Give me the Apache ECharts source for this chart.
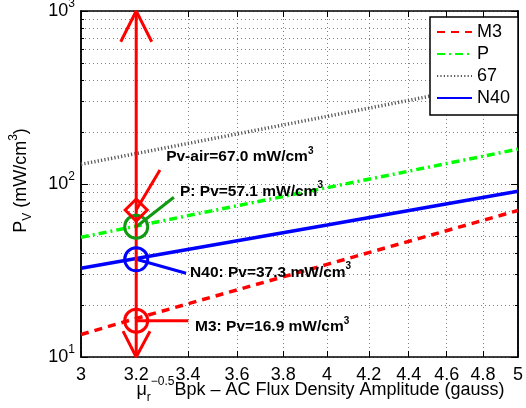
<!DOCTYPE html>
<html><head><meta charset="utf-8">
<script src="https://cdn.jsdelivr.net/npm/echarts@6/dist/echarts.min.js"></script>
<style>html,body{margin:0;padding:0;background:#fff}#c{width:526px;height:408px}</style>
</head><body><div id="c"></div>
<script>
// ---- data (log-log plot) ----
const xValues   = [3, 3.2, 4, 5];
const m3Values  = [13.5, 16.7, 34.3, 70.3];
const pValues   = [49.2, 57.1, 95.3, 159];
const airValues = [130, 150, 246, 405];
const n40Values = [32.6, 37.1, 57.9, 90.8];
const seriesNames = ['M3', 'P', '67', 'N40'];

const xTicks = [3, 3.2, 3.4, 3.6, 3.8, 4, 4.2, 4.4, 4.6, 4.8, 5];
const yMinorTicks = [10, 20, 30, 40, 50, 60, 70, 80, 90, 100, 200, 300, 400, 500, 600, 700, 800, 900, 1000];
const yMajorTicks = [10, 100, 1000];

// operating point annotation at x = 3.2
const markX = 3.2;
const markerY = [16.2, 36.7, 56.6, 70.7];           // M3, N40, P, air
const markerColors = ['#ff0000', '#0000ff', '#119911', '#ff0000'];
const markerSymbols = ['circle', 'circle', 'circle', 'diamond'];
const leaderEndX = [3.401, 3.392, 3.344, 3.290];
const leaderEndY = [16.2, 30.5, 83.8, 120.5];
const noteX = [3.428, 3.408, 3.368, 3.314];
const noteY = [14.9, 30.8, 90.5, 143.2];
const noteTexts = ['M3: Pv=16.9 mW/cm', 'N40: Pv=37.3 mW/cm', 'P: Pv=57.1 mW/cm', 'Pv-air=67.0 mW/cm'];
const arrowTopY = [664, 1000, 664];
const arrowTopX = [3.1426, 3.2, 3.2585];
const arrowBotY = [14.1, 10, 14.1];
const arrowBotX = [3.151, 3.2, 3.252];

const pairs = (xs, ys) => xs.map((x, i) => [x, ys[i]]);

const gridDot = { color: '#808080', type: [1, 3], width: 1 };
const FONT = 'Liberation Sans, Arial, Helvetica, sans-serif';

function logAxisX(pos, showLabel) {
  return {
    type: 'log', logBase: 10, min: 3, max: 5, position: pos,
    axisLine: { show: true, onZero: false, lineStyle: { color: '#000', width: 1.5 } },
    axisTick: { show: true, inside: true, length: 6, customValues: xTicks, lineStyle: { color: '#000', width: 1 } },
    axisLabel: showLabel ? {
      show: true, customValues: xTicks, margin: 9, color: '#000', fontSize: 18, fontFamily: FONT,
      formatter: v => String(Math.round(v * 10) / 10)
    } : { show: false },
    splitLine: { show: showLabel, lineStyle: gridDot },
    minorTick: { show: false }, minorSplitLine: { show: false }
  };
}
function logAxisY(pos, ticks, len, opts) {
  return Object.assign({
    type: 'log', logBase: 10, min: 10, max: 1000, position: pos,
    axisLine: { show: true, onZero: false, lineStyle: { color: '#000', width: 1.5 } },
    axisTick: { show: true, inside: true, length: len, customValues: ticks, lineStyle: { color: '#000', width: 1 } },
    axisLabel: { show: false },
    splitLine: { show: false },
    minorTick: { show: false }, minorSplitLine: { show: false }
  }, opts || {});
}

const xAxes = [
  Object.assign(logAxisX('bottom', true), {
    name: '{t|μ}{sub|r}{sup|−0.5}{t|Bpk – AC Flux Density Amplitude (gauss)}',
    nameLocation: 'middle', nameGap: 19,
    nameMoveOverlap: false,
    nameTextStyle: {
      padding: [0, 0, 0, 42],
      rich: {
        t: { fontSize: 18, fontFamily: FONT, color: '#000', lineHeight: 28 },
        sub: { fontSize: 12, fontFamily: FONT, color: '#000', verticalAlign: 'bottom', lineHeight: 6 },
        sup: { fontSize: 12, fontFamily: FONT, color: '#000', verticalAlign: 'top', lineHeight: 8 }
      }
    }
  }),
  logAxisX('top', false)
];
const yAxes = [
  logAxisY('left', yMinorTicks, 3, {
    axisLabel: {
      show: true, customValues: yMajorTicks, margin: 6,
      formatter: v => '{b|10}{s|' + Math.round(Math.log10(v)) + '}',
      rich: {
        b: { fontSize: 18, fontFamily: FONT, color: '#000', lineHeight: 26 },
        s: { fontSize: 12, fontFamily: FONT, color: '#000', verticalAlign: 'top', lineHeight: 13 }
      }
    },
    splitLine: { show: true, lineStyle: gridDot },
    name: '{t|P}{sub|V}{t| (mW/cm}{sup|3}{t|)}',
    nameLocation: 'middle', nameGap: 47,
    nameMoveOverlap: false,
    nameTextStyle: {
      padding: [0, 0, 0, 7],
      rich: {
        t: { fontSize: 18, fontFamily: FONT, color: '#000', lineHeight: 26 },
        sub: { fontSize: 12, fontFamily: FONT, color: '#000', verticalAlign: 'bottom', lineHeight: 6 },
        sup: { fontSize: 12, fontFamily: FONT, color: '#000', verticalAlign: 'top', lineHeight: 8 }
      }
    }
  }),
  logAxisY('left', yMajorTicks, 7),
  logAxisY('right', yMinorTicks, 3),
  logAxisY('right', yMajorTicks, 7)
];

const lineSeries = [
  { name: seriesNames[0], data: pairs(xValues, m3Values),  color: '#ff0000', type: [8, 6], width: 3.5 },
  { name: seriesNames[1], data: pairs(xValues, pValues),   color: '#00ff00', type: [8, 4, 2, 4], width: 3.5 },
  { name: seriesNames[2], data: pairs(xValues, airValues), color: '#555555', type: [1.2, 2.2], width: 3.5 },
  { name: seriesNames[3], data: pairs(xValues, n40Values), color: '#0000ff', type: 'solid', width: 3.5 }
].map(s => ({
  type: 'line', name: s.name, data: s.data, symbol: 'none', smooth: false, z: 3,
  lineStyle: { color: s.color, type: s.type, width: s.width },
  itemStyle: { color: s.color },
  emphasis: { disabled: true }, animation: false
}));

function plainLine(data, color, width, z) {
  return {
    type: 'line', data: data, symbol: 'none', silent: true, z: z || 5,
    lineStyle: { color: color, width: width, type: 'solid' },
    emphasis: { disabled: true }, animation: false
  };
}

const annotSeries = [
  plainLine([[markX, 10], [markX, 1000]], '#ff0000', 3, 6),
  plainLine(pairs(arrowTopX, arrowTopY), '#ff0000', 3, 6),
  plainLine(pairs(arrowBotX, arrowBotY), '#ff0000', 3, 6)
];
markerY.forEach((y, i) => {
  annotSeries.push(plainLine([[markX, y], [leaderEndX[i], leaderEndY[i]]], markerColors[i], 3, 5));
});
annotSeries.push({
  type: 'scatter', silent: true, z: 7, animation: false,
  itemStyle: { opacity: 1 },
  data: markerY.map((y, i) => ({
    value: [markX, y],
    symbol: markerSymbols[i],
    symbolSize: markerSymbols[i] === 'diamond' ? [22, 22] : 23,
    itemStyle: { color: 'rgba(0,0,0,0)', borderColor: markerColors[i], borderWidth: 3, opacity: 1 }
  }))
});
annotSeries.push({
  type: 'scatter', silent: true, z: 8, animation: false, symbolSize: 0,
  itemStyle: { opacity: 1 },
  data: noteTexts.map((t, i) => ({ value: [noteX[i], noteY[i]], name: t })),
  label: {
    show: true, position: 'right', distance: 0, opacity: 1, color: '#000',
    formatter: p => '{b|' + p.name + '}{s|3}',
    rich: {
      b: { fontSize: 15.5, fontWeight: 'bold', fontFamily: FONT, color: '#000', lineHeight: 22 },
      s: { fontSize: 10, fontWeight: 'bold', fontFamily: FONT, color: '#000', verticalAlign: 'top', lineHeight: 10 }
    }
  }
});

const chart = echarts.init(document.getElementById('c'), null, { renderer: 'canvas' });
chart.setOption({
  animation: false,
  backgroundColor: '#fff',
  grid: { left: 81, top: 11, right: 8, bottom: 51, containLabel: false, outerBoundsMode: 'none' },
  xAxis: xAxes,
  yAxis: yAxes,
  legend: {
    data: seriesNames, orient: 'vertical', left: 430, top: 17,
    padding: [4, 8, 6, 6], itemGap: 0, itemWidth: 35, itemHeight: 14, itemTextGap: 5,
    backgroundColor: '#fff', borderColor: '#000', borderWidth: 1.5, borderRadius: 0,
    itemStyle: { opacity: 0 },
    selectedMode: false,
    textStyle: { fontSize: 18, fontFamily: FONT, color: '#000', lineHeight: 22 }
  },
  series: lineSeries.concat(annotSeries)
});
</script></body></html>
